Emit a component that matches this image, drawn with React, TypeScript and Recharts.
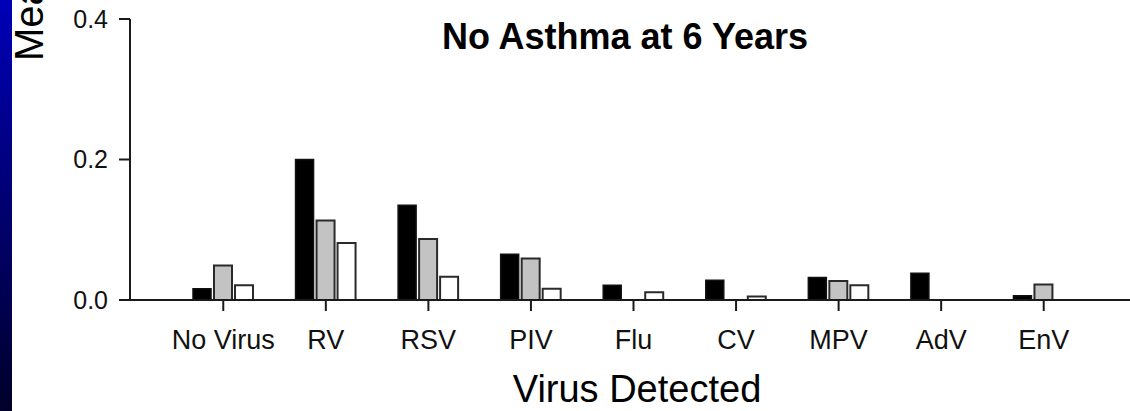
import { BarChart, Bar, XAxis, YAxis, Label } from "recharts";

const categories = ["No Virus", "RV", "RSV", "PIV", "Flu", "CV", "MPV", "AdV", "EnV"];
const blackValues = [0.016, 0.2, 0.135, 0.065, 0.021, 0.028, 0.032, 0.038, 0.006];
const grayValues = [0.049, 0.113, 0.087, 0.059, 0, 0, 0.027, 0, 0.022];
const whiteValues = [0.021, 0.081, 0.033, 0.016, 0.011, 0.005, 0.021, 0, 0];
const yTicks = [0, 0.2, 0.4];

const data = categories.map((name, i) => ({
  name,
  black: blackValues[i],
  gray: grayValues[i],
  white: whiteValues[i],
}));

const FONT = "'Liberation Sans', Arial, sans-serif";

export default function App() {
  return (
    <div
      style={{
        position: "absolute",
        left: 0,
        top: 0,
        width: 1130,
        height: 411,
        background: "#fff",
        overflow: "hidden",
        fontFamily: FONT,
      }}
    >
      <div
        style={{
          position: "absolute",
          left: 0,
          top: 0,
          width: 12,
          height: 411,
          background: "linear-gradient(#0000b8, #00002a)",
        }}
      />
      <BarChart
        width={1130}
        height={411}
        data={data}
        margin={{ top: 19, right: 0, bottom: 0, left: 0 }}
        barSize={18}
        barGap={3}
      >
        <text x={625} y={49} textAnchor="middle" fontSize={36} fontWeight="bold" fill="#000" fontFamily={FONT}>
          No Asthma at 6 Years
        </text>
        <XAxis
          dataKey="name"
          height={111}
          padding={{ left: 42, right: 35 }}
          tickSize={11}
          tickMargin={19}
          interval={0}
          stroke="#1a1a1a"
          strokeWidth={2}
          tick={{ fill: "#111", fontSize: 27, fontFamily: FONT }}
        >
          <Label
            content={(props: any) => {
              const vb = props.viewBox || {};
              return (
                <text
                  x={vb.x + vb.width / 2 + 7}
                  y={vb.y + vb.height - 9}
                  textAnchor="middle"
                  fontSize={38}
                  fill="#000"
                  fontFamily={FONT}
                >
                  Virus Detected
                </text>
              );
            }}
          />
        </XAxis>
        <YAxis
          domain={[0, 0.4]}
          ticks={yTicks}
          width={130}
          tickSize={11}
          tickMargin={11}
          stroke="#1a1a1a"
          strokeWidth={2}
          tickFormatter={(v: number) => v.toFixed(1)}
          tick={{ fill: "#111", fontSize: 25, fontFamily: FONT }}
        >
          <Label
            content={() => (
              <text
                x={43}
                y={61}
                transform="rotate(-90, 43, 61)"
                textAnchor="start"
                fontSize={40}
                fill="#000"
                fontFamily={FONT}
              >
                Mean
              </text>
            )}
          />
        </YAxis>
        <Bar dataKey="black" fill="#000" stroke="#111" strokeWidth={1.5} isAnimationActive={false} />
        <Bar dataKey="gray" fill="#c3c3c3" stroke="#2a2a2a" strokeWidth={2} isAnimationActive={false} />
        <Bar dataKey="white" fill="#fff" stroke="#2a2a2a" strokeWidth={2} isAnimationActive={false} />
      </BarChart>
    </div>
  );
}
